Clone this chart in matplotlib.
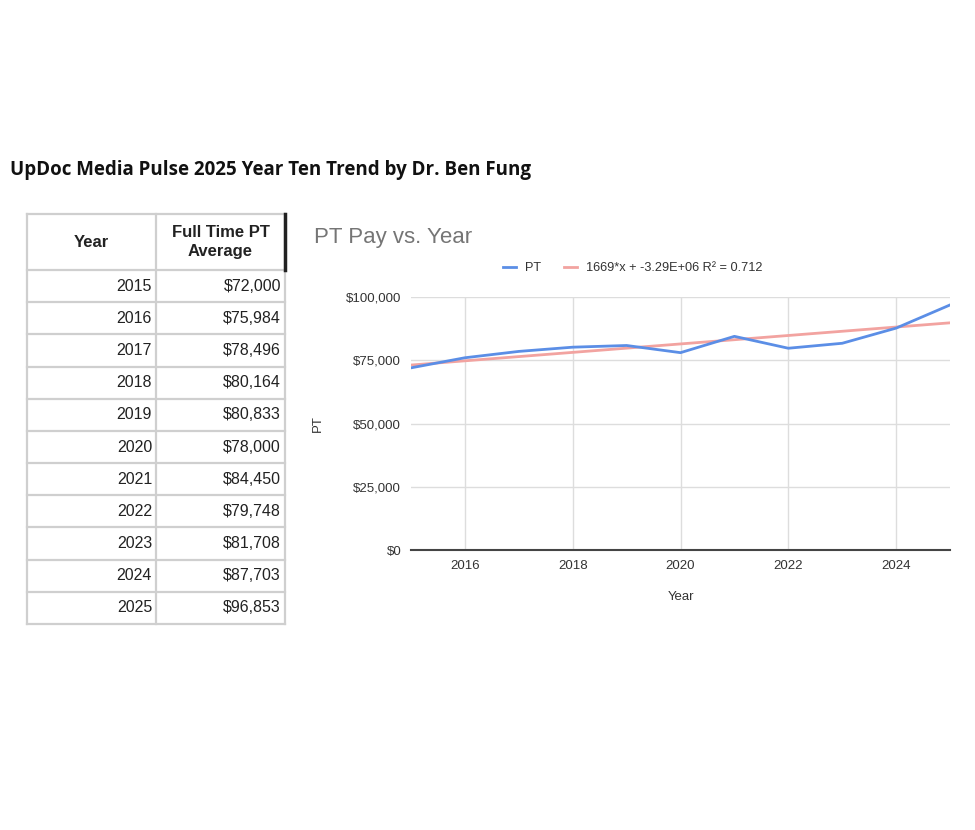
import numpy as np
import matplotlib
matplotlib.use("Agg")
from matplotlib import pyplot as plt
from matplotlib.ticker import FuncFormatter

years = [2015, 2016, 2017, 2018, 2019, 2020, 2021, 2022, 2023, 2024, 2025]
pt_avg = [72000, 75984, 78496, 80164, 80833, 78000, 84450, 79748, 81708, 87703, 96853]
x_ticks = [2016, 2018, 2020, 2022, 2024]
y_ticks = [0, 25000, 50000, 75000, 100000]

title = "UpDoc Media Pulse 2025 Year Ten Trend by Dr. Ben Fung"
col_heads = ["Year", "Full Time PT\nAverage"]

plt.rcParams['font.family'] = ['Liberation Sans', 'DejaVu Sans']

fig = plt.figure(figsize=(9.75, 8.3), dpi=100)

# background axes in pixel coords for title + table
bg = fig.add_axes([0, 0, 1, 1])
bg.set_xlim(0, 975)
bg.set_ylim(830, 0)
bg.axis("off")

bg.text(10, 170, title, fontsize=13.5, fontweight="bold", family=["Open Sans", "DejaVu Sans"],
        va="center", ha="left", color="#111")

# table
tx0, tx1, tx2 = 27, 156, 285
ty0, ty1 = 214, 270
row_h = (624 - ty1) / len(years)
grid_c = "#cfcfcf"
ty_end = ty1 + row_h * len(years)
for xx in (tx0, tx1, tx2):
    bg.plot([xx, xx], [ty0, ty_end], color=grid_c, lw=1.6)
bg.plot([tx0, tx2], [ty0, ty0], color=grid_c, lw=1.6)
bg.plot([tx0, tx2], [ty1, ty1], color=grid_c, lw=1.6)
for i in range(len(years)):
    yy = ty1 + row_h * (i + 1)
    bg.plot([tx0, tx2], [yy, yy], color=grid_c, lw=1.6)
bg.plot([tx2, tx2], [ty0, ty1], color="#222", lw=2.5)

bg.text((tx0 + tx1) / 2, (ty0 + ty1) / 2, col_heads[0], ha="center", va="center",
        fontsize=12, fontweight="bold", color="#222")
bg.text((tx1 + tx2) / 2, (ty0 + ty1) / 2, col_heads[1], ha="center", va="center",
        fontsize=12, fontweight="bold", color="#222", linespacing=1.3)
for i, (yr, v) in enumerate(zip(years, pt_avg)):
    yc = ty1 + row_h * (i + 0.5)
    bg.text(tx1 - 4, yc, str(yr), ha="right", va="center", fontsize=11.5, color="#222")
    bg.text(tx2 - 4, yc, "${:,}".format(v), ha="right", va="center", fontsize=11.5, color="#222")

# chart
ax = fig.add_axes([411 / 975, 1 - 550 / 830, (950 - 411) / 975, (550 - 297) / 830])
slope, inter = np.polyfit(years, pt_avg, 1)
fit = np.polyval([slope, inter], years)
r2 = 1 - np.sum((np.array(pt_avg) - fit) ** 2) / np.sum((np.array(pt_avg) - np.mean(pt_avg)) ** 2)
trend_label = "{:.0f}*x + {:.2E} R\u00b2 = {:.3f}".format(slope, inter, r2)

ax.plot(years, fit, color="#f2a3a0", lw=2, label=trend_label, zorder=2)
ax.plot(years, pt_avg, color="#5b8ee6", lw=2, label="PT", zorder=3)

ax.set_xlim(2015, 2025)
ax.set_ylim(0, 100000)
ax.set_xticks(x_ticks)
ax.set_yticks(y_ticks)
ax.yaxis.set_major_formatter(FuncFormatter(lambda v, p: "${:,.0f}".format(v)))
ax.grid(True, color="#dddddd", lw=1)
ax.set_axisbelow(True)
for s in ("top", "right", "left"):
    ax.spines[s].set_visible(False)
ax.spines["bottom"].set_color("#444")
ax.spines["bottom"].set_linewidth(1.5)
ax.tick_params(length=0, labelsize=9.5, colors="#333", pad=7)
ax.set_xlabel("Year", fontsize=9.5, color="#333", labelpad=14)
ax.set_ylabel("PT", fontsize=9.5, color="#333", labelpad=16)

fig.text(314 / 975, 1 - 237 / 830, "PT Pay vs. Year", fontsize=16, color="#757575",
         ha="left", va="center")

h, l = ax.get_legend_handles_labels()
fig.legend(h[::-1], l[::-1], loc="center", bbox_to_anchor=(633 / 975, 1 - 268 / 830),
           ncol=2, frameon=False, fontsize=9.2, handlelength=1.0, columnspacing=1.8,
           handletextpad=0.7, labelcolor="#333")

fig.savefig("out.png", dpi=100, facecolor="white")
